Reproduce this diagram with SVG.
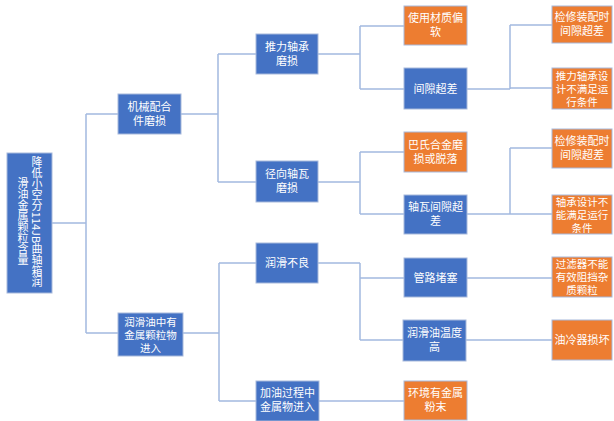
<svg xmlns="http://www.w3.org/2000/svg" width="614" height="421" viewBox="0 0 614 421">
<style>
.b{fill:#4472C4;stroke:#A7B9DB;stroke-width:1}
.o{fill:#ED7D31;stroke:#A7B9DB;stroke-width:1}
.t{fill:#FFFFFF;font-family:"Noto Sans CJK SC","Noto Sans",sans-serif;font-size:11px;text-anchor:middle}
.s{font-size:10.5px}
.c{fill:none;stroke:#A3B9E0;stroke-width:1.5}
</style>
<rect width="614" height="421" fill="#FFFFFF"/>
<g id="connectors">
<path class="c" d="M52 223H86M86 114V333M86 114H118M86 333H118"/>
<path class="c" d="M181 114H218M218 54V182M218 54H256M218 182H256"/>
<path class="c" d="M183 333H219M219 263V401M219 263H256M219 401H256"/>
<path class="c" d="M318 54H360M360 26V89M360 26H404M360 89H404"/>
<path class="c" d="M318 182H360M360 152V214M360 152H404M360 214H404"/>
<path class="c" d="M318 263H360M360 263V340M360 278H404M360 340H403"/>
<path class="c" d="M319 401H404"/>
<path class="c" d="M467 89H510M510 25V89M510 25H552M510 88H552"/>
<path class="c" d="M467 214H510M510 148V214M510 148H552M510 214H552"/>
<path class="c" d="M467 278H552M466 340H552"/>
</g>
<g id="root">
<rect class="b" x="7" y="153" width="45" height="140"/>
<text class="t" writing-mode="vertical-rl" style="writing-mode:vertical-rl"><tspan x="37" y="222">降低小空分114JB曲轴箱润</tspan><tspan x="23" y="222">滑油金属颗粒含量</tspan></text>
</g>
<g id="n1"><rect class="b" x="118" y="94" width="63" height="40"/><text class="t"><tspan x="149.5" y="111">机械配合</tspan><tspan x="149.5" y="125">件磨损</tspan></text></g>
<g id="n2"><rect class="b" x="118" y="313" width="65" height="43"/><text class="t s"><tspan x="150.5" y="326">润滑油中有</tspan><tspan x="150.5" y="339">金属颗粒物</tspan><tspan x="150.5" y="352">进入</tspan></text></g>
<g id="n3"><rect class="b" x="256" y="34" width="62" height="40"/><text class="t"><tspan x="287" y="51">推力轴承</tspan><tspan x="287" y="65">磨损</tspan></text></g>
<g id="n4"><rect class="b" x="256" y="161" width="62" height="41"/><text class="t"><tspan x="287" y="178">径向轴瓦</tspan><tspan x="287" y="192">磨损</tspan></text></g>
<g id="n5"><rect class="b" x="256" y="243" width="62" height="40"/><text class="t" x="287" y="267">润滑不良</text></g>
<g id="n6"><rect class="b" x="256" y="381" width="63" height="40"/><text class="t"><tspan x="287.5" y="397">加油过程中</tspan><tspan x="287.5" y="411">金属物进入</tspan></text></g>
<g id="n7"><rect class="o" x="404" y="6" width="63" height="39"/><text class="t"><tspan x="435.5" y="22">使用材质偏</tspan><tspan x="435.5" y="36">软</tspan></text></g>
<g id="n8"><rect class="b" x="404" y="68" width="63" height="41"/><text class="t" x="435.5" y="93">间隙超差</text></g>
<g id="n9"><rect class="o" x="404" y="132" width="63" height="40"/><text class="t"><tspan x="435.5" y="149">巴氏合金磨</tspan><tspan x="435.5" y="163">损或脱落</tspan></text></g>
<g id="n10"><rect class="b" x="404" y="195" width="63" height="39"/><text class="t"><tspan x="435.5" y="211">轴瓦间隙超</tspan><tspan x="435.5" y="225">差</tspan></text></g>
<g id="n11"><rect class="b" x="404" y="258" width="63" height="39"/><text class="t" x="435.5" y="282">管路堵塞</text></g>
<g id="n12"><rect class="b" x="403" y="320" width="63" height="41"/><text class="t"><tspan x="434.5" y="337">润滑油温度</tspan><tspan x="434.5" y="351">高</tspan></text></g>
<g id="n13"><rect class="o" x="404" y="381" width="63" height="39"/><text class="t"><tspan x="435.5" y="397">环境有金属</tspan><tspan x="435.5" y="411">粉末</tspan></text></g>
<g id="n14"><rect class="o" x="552" y="6" width="60" height="37"/><text class="t"><tspan x="582" y="21">检修装配时</tspan><tspan x="582" y="35">间隙超差</tspan></text></g>
<g id="n15"><rect class="o" x="552" y="68" width="60" height="41"/><text class="t s"><tspan x="582" y="80">推力轴承设</tspan><tspan x="582" y="93">计不满足运</tspan><tspan x="582" y="106">行条件</tspan></text></g>
<g id="n16"><rect class="o" x="552" y="129" width="60" height="39"/><text class="t"><tspan x="582" y="145">检修装配时</tspan><tspan x="582" y="159">间隙超差</tspan></text></g>
<g id="n17"><rect class="o" x="552" y="195" width="60" height="39"/><text class="t s"><tspan x="582" y="206">轴承设计不</tspan><tspan x="582" y="219">能满足运行</tspan><tspan x="582" y="232">条件</tspan></text></g>
<g id="n18"><rect class="o" x="552" y="257" width="60" height="40"/><text class="t s"><tspan x="582" y="268">过滤器不能</tspan><tspan x="582" y="281">有效阻挡杂</tspan><tspan x="582" y="294">质颗粒</tspan></text></g>
<g id="n19"><rect class="o" x="552" y="320" width="60" height="40"/><text class="t" x="582" y="344">油冷器损坏</text></g>
</svg>
